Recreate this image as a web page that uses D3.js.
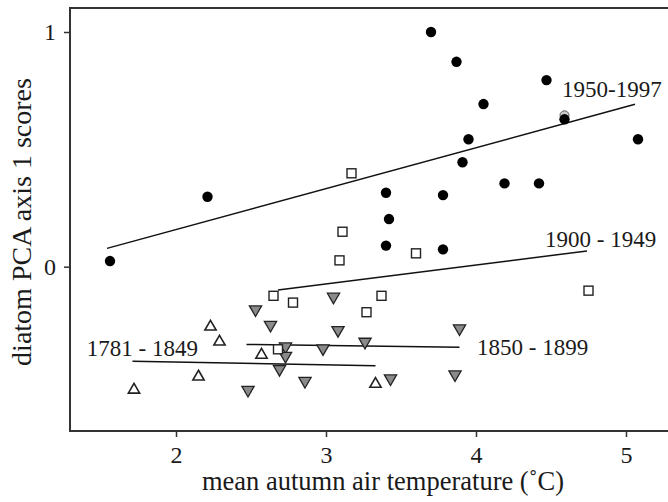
<!DOCTYPE html>
<html>
<head>
<meta charset="utf-8">
<script src="https://cdn.jsdelivr.net/npm/d3@7"></script>
<style>
  body { margin: 0; background: #fff; }
  text { font-family: "Liberation Serif", "Times New Roman", serif; fill: #1a1a1a; }
</style>
</head>
<body>
<script>
// 1950-1997 (filled circles)
var p1950x = [3.70, 3.87, 4.47, 4.05, 4.59, 5.08, 3.95, 3.91, 4.19, 4.42, 3.40, 3.78, 2.21, 1.56, 3.42, 3.40, 3.78];
var p1950y = [1.00, 0.873, 0.795, 0.693, 0.628, 0.543, 0.543, 0.445, 0.355, 0.355, 0.315, 0.305, 0.298, 0.024, 0.203, 0.09, 0.074];
// 1900-1949 (open squares)
var p1900x = [3.17, 3.11, 3.09, 3.60, 4.75, 2.65, 2.78, 3.37, 3.27, 2.68];
var p1900y = [0.398, 0.149, 0.027, 0.057, -0.102, -0.124, -0.153, -0.124, -0.194, -0.352];
// 1850-1899 (grey down triangles)
var p1850x = [3.05, 2.53, 2.63, 3.08, 3.89, 2.73, 2.98, 3.26, 2.73, 2.69, 2.86, 2.48, 3.43, 3.86];
var p1850y = [-0.128, -0.182, -0.248, -0.27, -0.263, -0.34, -0.348, -0.32, -0.38, -0.436, -0.487, -0.525, -0.476, -0.459];
// 1781-1849 (open up triangles)
var p1781x = [2.23, 2.29, 2.57, 2.15, 1.72, 3.33];
var p1781y = [-0.256, -0.32, -0.376, -0.469, -0.525, -0.50];
// odd grey ring near 4.6
var ringX = [4.59], ringY = [0.645];

// regression line end points [x1, y1, x2, y2]
var fitNames = ["1950-1997", "1900 - 1949", "1850 - 1899", "1781 - 1849"];
var fitLines = [[1.54, 0.078, 5.06, 0.692], [2.68, -0.099, 4.74, 0.067], [2.47, -0.331, 3.89, -0.343], [1.71, -0.403, 3.33, -0.422]];

var xTicks = [2, 3, 4, 5];
var yTicks = [0, 1];

var W = 668, H = 502;
var svg = d3.select("body").append("svg").attr("width", W).attr("height", H);

var x = d3.scaleLinear().domain([2, 5]).range([176, 626]);
var y = d3.scaleLinear().domain([0, 1]).range([266.7, 32]);
var pLeft = 70, pTop = 8, pBottom = 431, pRight = 668;

// frame
svg.append("path")
  .attr("d", "M" + pRight + "," + pTop + "H" + pLeft + "V" + pBottom + "H" + pRight)
  .attr("fill", "none").attr("stroke", "#333").attr("stroke-width", 2);

var xAxis = svg.append("g").attr("transform", "translate(0," + pBottom + ")")
  .call(d3.axisBottom(x).tickValues(xTicks).tickSize(6).tickPadding(9).tickFormat(d3.format("d")));
var yAxis = svg.append("g").attr("transform", "translate(" + pLeft + ",0)")
  .call(d3.axisLeft(y).tickValues(yTicks).tickSize(6).tickPadding(8).tickFormat(d3.format("d")));
[xAxis, yAxis].forEach(function(a) {
  a.select(".domain").remove();
  a.selectAll("line").attr("stroke", "#333").attr("stroke-width", 1.5);
  a.selectAll("text").style("font-family", '"Liberation Serif", serif').style("font-size", "24px").attr("fill", "#1a1a1a");
});

svg.append("text").attr("x", 383).attr("y", 490).attr("text-anchor", "middle")
  .style("font-size", "26.5px").text("mean autumn air temperature (\u02daC)");
svg.append("text").attr("transform", "translate(31,222) rotate(-90)").attr("text-anchor", "middle")
  .style("font-size", "28px").text("diatom PCA axis 1 scores");

// fit lines
svg.selectAll(".fit").data(fitLines).enter().append("line")
  .attr("x1", function(d) { return x(d[0]); }).attr("y1", function(d) { return y(d[1]); })
  .attr("x2", function(d) { return x(d[2]); }).attr("y2", function(d) { return y(d[3]); })
  .attr("stroke", "#111").attr("stroke-width", 1.5);

// labels
var labPos = [[562, 97, "start"], [545, 247, "start"], [477, 355, "start"], [198, 356, "end"]];
fitNames.forEach(function(n, i) {
  svg.append("text").attr("x", labPos[i][0]).attr("y", labPos[i][1]).attr("text-anchor", labPos[i][2])
    .style("font-size", "23px").text(n);
});

function pts(xs, ys) { return xs.map(function(v, i) { return [v, ys[i]]; }); }

// triangles up
svg.selectAll(".tu").data(pts(p1781x, p1781y)).enter().append("path")
  .attr("d", d3.symbol().type(d3.symbolTriangle).size(55))
  .attr("transform", function(d) { return "translate(" + x(d[0]) + "," + y(d[1]) + ")"; })
  .attr("fill", "#fff").attr("stroke", "#222").attr("stroke-width", 1.6);

// triangles down
svg.selectAll(".td").data(pts(p1850x, p1850y)).enter().append("path")
  .attr("d", d3.symbol().type(d3.symbolTriangle).size(65))
  .attr("transform", function(d) { return "translate(" + x(d[0]) + "," + y(d[1]) + ") rotate(180)"; })
  .attr("fill", "#8a8a8a").attr("stroke", "#222").attr("stroke-width", 1.3);

// squares
svg.selectAll(".sq").data(pts(p1900x, p1900y)).enter().append("rect")
  .attr("x", function(d) { return x(d[0]) - 4.5; }).attr("y", function(d) { return y(d[1]) - 4.5; })
  .attr("width", 9).attr("height", 9)
  .attr("fill", "#fff").attr("stroke", "#222").attr("stroke-width", 1.4);

svg.selectAll(".ring").data(pts(ringX, ringY)).enter().append("circle")
  .attr("cx", function(d) { return x(d[0]); }).attr("cy", function(d) { return y(d[1]); })
  .attr("r", 4.5).attr("fill", "#ccc").attr("stroke", "#555").attr("stroke-width", 1);

// filled circles
svg.selectAll(".dot").data(pts(p1950x, p1950y)).enter().append("circle")
  .attr("cx", function(d) { return x(d[0]); }).attr("cy", function(d) { return y(d[1]); })
  .attr("r", 5.2).attr("fill", "#000");
</script>
</body>
</html>
